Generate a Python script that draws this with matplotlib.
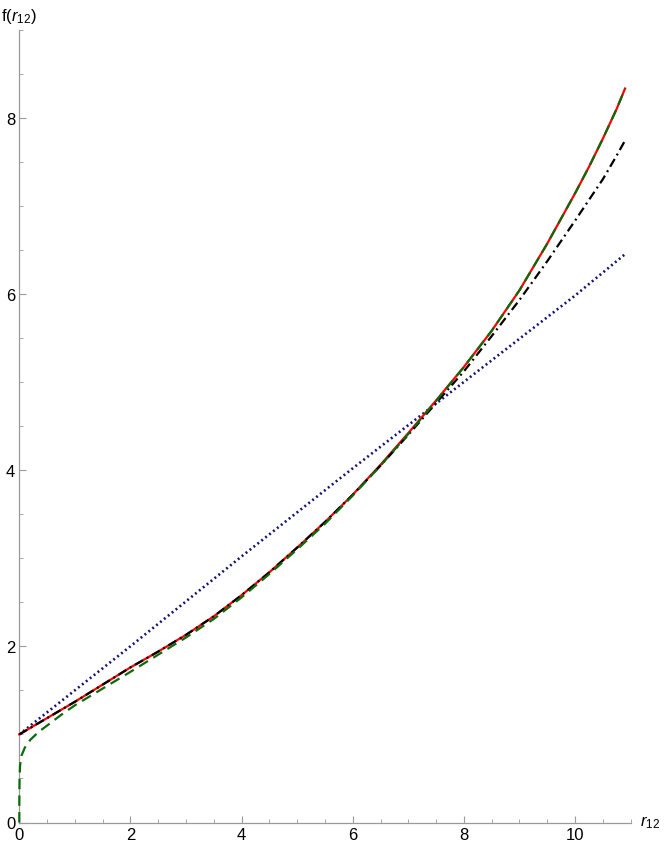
"""Correlation factor f(r12) curves, Mathematica-style axes."""

import matplotlib

matplotlib.use("Agg")
import matplotlib.pyplot as plt
from matplotlib.ticker import MultipleLocator

R_GRID = [0, 0.5, 1, 1.5, 2, 2.5, 3, 3.5, 4, 4.5, 5, 5.5, 6, 6.5, 7, 7.5,
          8, 8.5, 9, 9.5, 10, 10.25, 10.5, 10.75, 10.9]
F_RED = [1.00, 1.185, 1.37, 1.565, 1.76, 1.94, 2.13, 2.34, 2.58, 2.84, 3.12, 3.41,
         3.72, 4.06, 4.42, 4.79, 5.17, 5.58, 6.04, 6.57, 7.14, 7.44, 7.76, 8.10, 8.33]
F_DASHDOT = [1.00, 1.185, 1.37, 1.565, 1.76, 1.94, 2.13, 2.34, 2.58, 2.84, 3.12, 3.41,
             3.72, 4.05, 4.40, 4.76, 5.12, 5.52, 5.93, 6.37, 6.83, 7.065, 7.30, 7.57, 7.74]

R_GREEN = [0, 0.001, 0.005, 0.013, 0.04, 0.1, 0.2, 0.35, 0.5, 0.75, 1.0, 1.5, 2.0,
           2.5, 3.0, 3.5, 4.0, 4.5, 5.0, 5.5, 6.0, 6.5, 7.0, 7.5, 8.0, 8.5, 9.0,
           9.5, 10.0, 10.25, 10.5, 10.75, 10.9]
F_GREEN = [0.0, 0.30, 0.50, 0.64, 0.76, 0.85, 0.94, 1.03, 1.10, 1.22, 1.33, 1.52, 1.71,
           1.905, 2.10, 2.31, 2.555, 2.82, 3.10, 3.39, 3.71, 4.05, 4.41, 4.785, 5.17,
           5.58, 6.04, 6.57, 7.14, 7.44, 7.76, 8.10, 8.33]

R_DOTTED = [0, 2, 4, 6, 8, 10, 10.9]
F_DOTTED = [1.0, 2.0, 3.02, 4.02, 5.0, 5.98, 6.45]

X_TICKS = [0, 2, 4, 6, 8, 10]
Y_TICKS = [0, 2, 4, 6, 8]

plt.rcParams["font.family"] = ["Liberation Sans", "DejaVu Sans"]
plt.rcParams["mathtext.fontset"] = "custom"
plt.rcParams["mathtext.rm"] = "Liberation Sans"
plt.rcParams["mathtext.it"] = "Liberation Sans:italic"
plt.rcParams["lines.scale_dashes"] = False

AXIS_GRAY = "#9a9a9a"

fig = plt.figure(figsize=(6.64, 8.45), dpi=100)
ax = fig.add_axes([19.3 / 664, 21.5 / 845, 611.3 / 664, 793.0 / 845])

lw = 1.6
ax.plot(R_GRID, F_RED, color="#ff0000", lw=lw, clip_on=False, zorder=3)
ax.plot(R_GRID, F_DASHDOT, color="black", lw=lw, dashes=(6.5, 3.0, 1.4, 3.0),
        clip_on=False, zorder=4)
ax.plot(R_GREEN, F_GREEN, color="#0b6b0b", lw=lw, dashes=(7.5, 4.5),
        clip_on=False, zorder=5)
ax.plot(R_DOTTED, F_DOTTED, color="#14146e", lw=lw + 0.3, dashes=(1.4, 2.2),
        clip_on=False, zorder=2)

ax.set_xlim(0, 11)
ax.set_ylim(0, 9)
ax.set_xticks(X_TICKS)
ax.set_yticks(Y_TICKS)
ax.xaxis.set_minor_locator(MultipleLocator(0.5))
ax.yaxis.set_minor_locator(MultipleLocator(0.5))
ax.tick_params(which="major", direction="in", length=5, width=0.8, color=AXIS_GRAY,
               labelsize=12, pad=3)
ax.tick_params(which="minor", direction="in", length=3, width=0.6, color=AXIS_GRAY)
for side in ("top", "right"):
    ax.spines[side].set_visible(False)
for side in ("left", "bottom"):
    ax.spines[side].set_color(AXIS_GRAY)
    ax.spines[side].set_linewidth(0.9)

fig.text(1 / 664, 1 - 17 / 845, r"f($r_{12}$)", fontsize=12, ha="left", va="center")
fig.text(640 / 664, 1 - 823 / 845, r"$r_{12}$", fontsize=12, ha="left", va="center")

fig.savefig("out.png", dpi=100)
plt.close(fig)
